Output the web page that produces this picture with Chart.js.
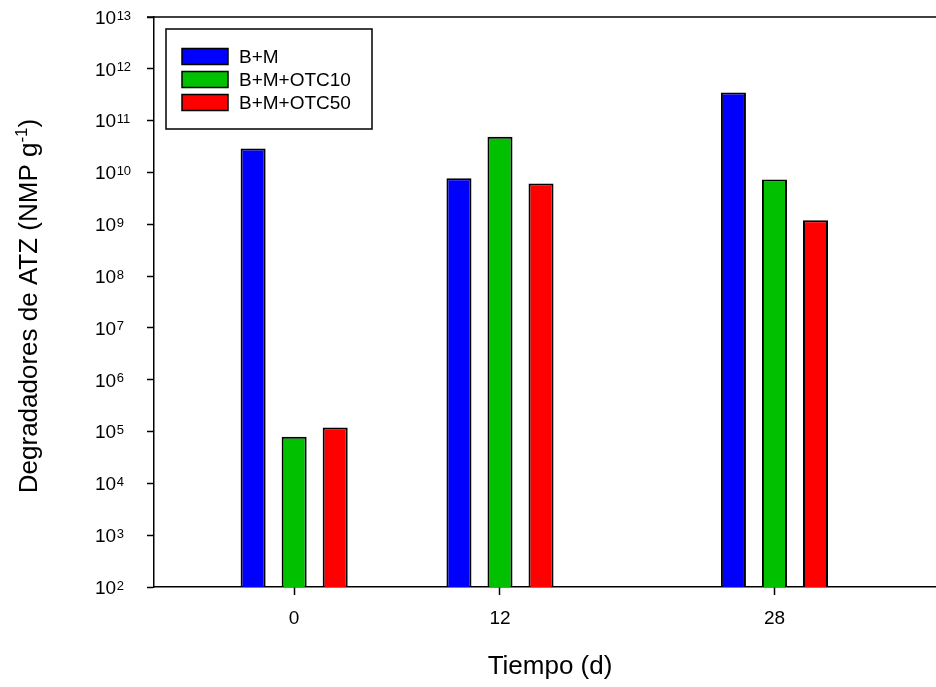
<!DOCTYPE html>
<html>
<head>
<meta charset="utf-8">
<script src="https://cdn.jsdelivr.net/npm/chart.js@4/dist/chart.umd.min.js"></script>
<style>
    html, body { margin: 0; padding: 0; background: #fff; overflow: hidden; }
    #wrap { width: 950px; height: 687px; }
</style>
</head>
<body>
<div id="wrap"><canvas id="barChart" width="950" height="687"></canvas></div>
<script>
const days = [0, 12, 28];
const seriesLabels = ['B+M', 'B+M+OTC10', 'B+M+OTC50'];
const seriesColors = ['#0000FF', '#00C000', '#FF0000'];
const bmValues = [2.9e10, 7.7e9, 3.5e11];
const otc10Values = [7.9e4, 4.9e10, 7.3e9];
const otc50Values = [1.2e5, 6.1e9, 1.2e9];
const yTickExponents = [2, 3, 4, 5, 6, 7, 8, 9, 10, 11, 12, 13];
const xTitle = 'Tiempo (d)';
const yTitleMain = 'Degradadores de ATZ (NMP g';
const yTitleSup = '-1';
const yTitleEnd = ')';

const FONT = '"Liberation Sans", Arial, sans-serif';

function toPoints(values) {
    return days.map((d, i) => ({ x: d, y: values[i] }));
}

// y tick labels (10 with superscript exponent) + rotated axis title
const yLabelsPlugin = {
    id: 'yLabels',
    afterDraw(chart) {
        const ctx = chart.ctx;
        const y = chart.scales.y;
        ctx.save();
        ctx.fillStyle = '#000';
        ctx.textBaseline = 'alphabetic';
        ctx.textAlign = 'left';
        yTickExponents.forEach(e => {
            const py = y.getPixelForValue(Math.pow(10, e));
            ctx.font = '19px ' + FONT;
            ctx.fillText('10', 95, py + 6.8);
            const w = ctx.measureText('10').width;
            ctx.font = '13px ' + FONT;
            ctx.fillText(String(e), 95 + w + 0.5, py + 2.5);
        });

        // axis title
        const big = '26px ' + FONT, small = '17px ' + FONT;
        ctx.font = big;
        const w1 = ctx.measureText(yTitleMain).width;
        const w3 = ctx.measureText(yTitleEnd).width;
        ctx.font = small;
        const w2 = ctx.measureText(yTitleSup).width;
        const total = w1 + w2 + w3;
        const cy = (chart.chartArea.top + chart.chartArea.bottom) / 2 + 4;
        ctx.translate(37, cy);
        ctx.rotate(-Math.PI / 2);
        let x = -total / 2;
        ctx.font = big;
        ctx.fillText(yTitleMain, x, 0);
        x += w1;
        ctx.font = small;
        ctx.fillText(yTitleSup, x, -10);
        x += w2;
        ctx.font = big;
        ctx.fillText(yTitleEnd, x, 0);
        ctx.restore();
    }
};

// top frame line and boxed legend inside the plot
const frameLegendPlugin = {
    id: 'frameLegend',
    afterDraw(chart) {
        const ctx = chart.ctx;
        const area = chart.chartArea;
        ctx.save();
        ctx.strokeStyle = '#000';
        ctx.lineWidth = 1.5;
        ctx.beginPath();
        ctx.moveTo(area.left - 7, area.top);
        ctx.lineTo(area.right, area.top);
        ctx.stroke();

        const bx = area.left + 12, by = area.top + 12;
        ctx.lineWidth = 1.5;
        ctx.strokeRect(bx, by, 206, 100);

        ctx.font = '19px ' + FONT;
        ctx.textBaseline = 'middle';
        ctx.textAlign = 'left';
        chart.data.datasets.forEach((ds, i) => {
            const ry = by + 19.5 + i * 23;
            ctx.fillStyle = ds.backgroundColor;
            ctx.fillRect(bx + 16, ry, 46, 16);
            ctx.lineWidth = 1.5;
            ctx.strokeRect(bx + 16, ry, 46, 16);
            ctx.fillStyle = '#000';
            ctx.fillText(ds.label, bx + 73, ry + 9);
        });
        ctx.restore();
    }
};

const allValues = [bmValues, otc10Values, otc50Values];

new Chart(document.getElementById('barChart'), {
    type: 'bar',
    data: {
        datasets: allValues.map((vals, i) => ({
            label: seriesLabels[i],
            data: toPoints(vals),
            backgroundColor: seriesColors[i],
            borderColor: '#000',
            borderWidth: 2,
            borderSkipped: 'start',
            categoryPercentage: 0.598,
            barPercentage: 0.61
        }))
    },
    options: {
        responsive: false,
        animation: false,
        devicePixelRatio: 1,
        layout: { padding: { top: 17, right: 4, left: 0, bottom: 0 } },
        plugins: {
            legend: { display: false },
            tooltip: { enabled: false }
        },
        scales: {
            x: {
                type: 'linear',
                min: -8.17,
                max: 38,
                offset: false,
                afterBuildTicks: scale => {
                    scale.ticks = days.map(v => ({ value: v }));
                },
                afterFit: scale => { scale.height = 100; },
                grid: {
                    offset: false,
                    drawOnChartArea: false,
                    drawTicks: true,
                    tickLength: 8,
                    tickWidth: 1.5,
                    tickColor: '#000'
                },
                border: { display: true, color: '#000', width: 1.5 },
                ticks: {
                    color: '#000',
                    font: { family: FONT, size: 19 },
                    padding: 12,
                    maxRotation: 0,
                    callback: v => String(v)
                },
                title: {
                    display: true,
                    text: xTitle,
                    color: '#000',
                    font: { family: FONT, size: 26 },
                    padding: { top: 0, bottom: 5 }
                }
            },
            y: {
                type: 'logarithmic',
                min: 1e2,
                max: 1e13,
                afterBuildTicks: scale => {
                    scale.ticks = yTickExponents.map(e => ({ value: Math.pow(10, e), major: true }));
                },
                afterFit: scale => { scale.width = 154; },
                grid: {
                    drawOnChartArea: false,
                    drawTicks: true,
                    tickLength: 7,
                    tickWidth: 1.5,
                    tickColor: '#000'
                },
                border: { display: true, color: '#000', width: 1.5 },
                ticks: { display: false }
            }
        }
    },
    plugins: [yLabelsPlugin, frameLegendPlugin]
});
</script>
</body>
</html>
